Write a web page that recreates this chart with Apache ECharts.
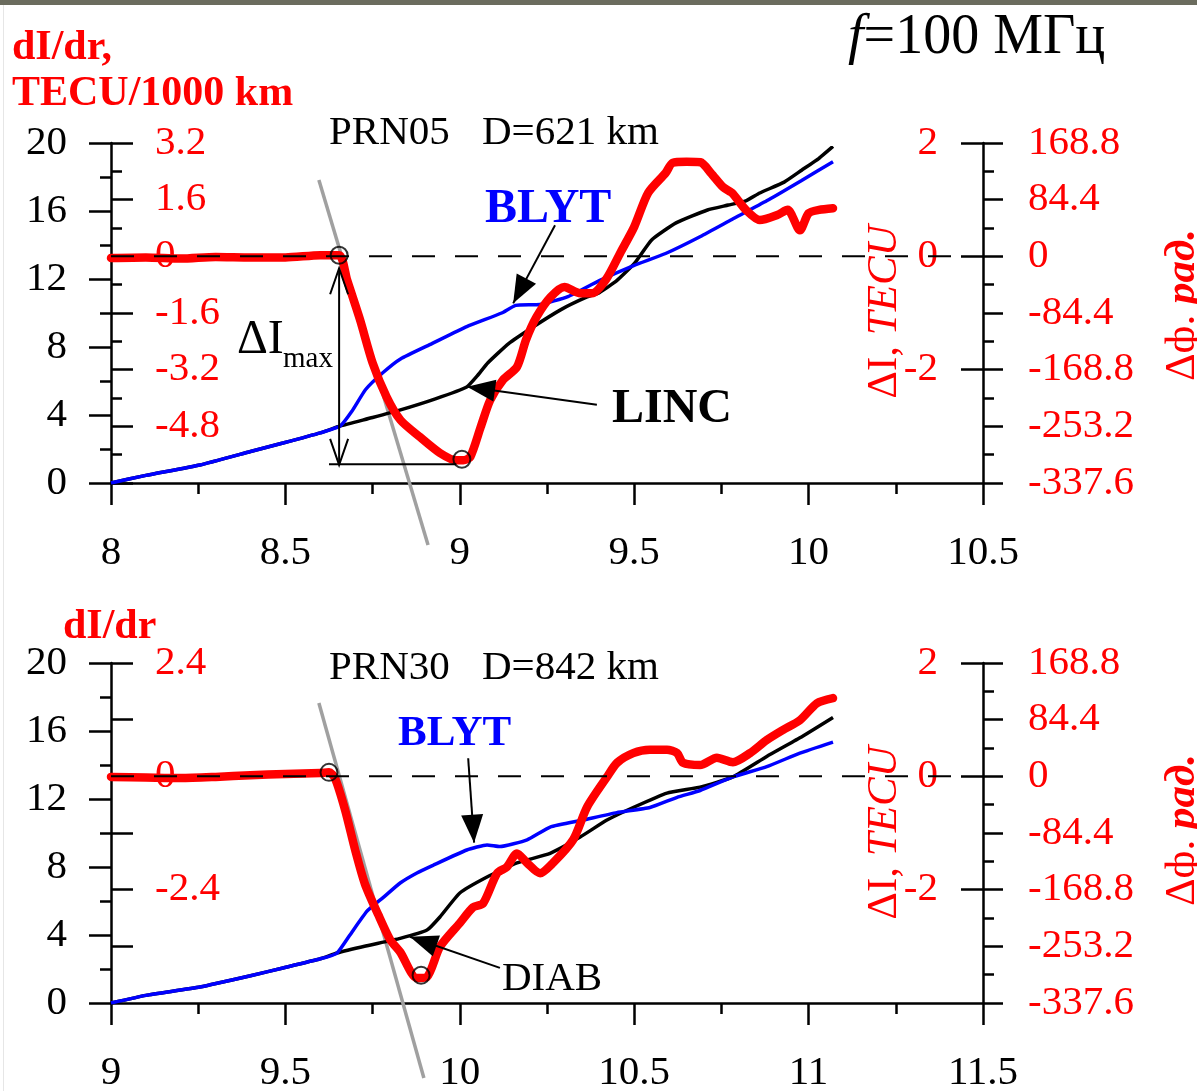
<!DOCTYPE html>
<html lang="en">
<head>
<meta charset="UTF-8">
<title>dI/dr PRN05 / PRN30</title>
<script src="https://cdn.jsdelivr.net/npm/echarts@6/dist/echarts.min.js"></script>
<style>html,body{margin:0;padding:0;background:#fff;}</style>
</head>
<body>
<div id="main" style="width:1197px;height:1091px;"></div>
<script>
const SERIF = "'Liberation Serif', 'Times New Roman', serif";

// ---- top panel: PRN05, D=621 km ----
const topLincX = [8, 8.1, 8.255, 8.4, 8.493, 8.6, 8.657, 8.75, 8.83, 8.93, 9.02, 9.05, 9.08, 9.14, 9.21, 9.29, 9.36, 9.40, 9.45, 9.50, 9.55, 9.62, 9.71, 9.77, 9.82, 9.86, 9.93, 9.98, 10.03, 10.07];
const topLincY = [0, 0.45, 1.06, 1.85, 2.35, 2.95, 3.35, 3.85, 4.3, 4.95, 5.65, 6.3, 7.06, 8.2, 9.18, 10.2, 10.9, 11.2, 11.9, 12.9, 14.3, 15.3, 16.06, 16.35, 16.6, 17.06, 17.7, 18.4, 19.1, 19.8];

const topBlytX = [8, 8.1, 8.255, 8.4, 8.493, 8.6, 8.657, 8.69, 8.73, 8.78, 8.83, 8.92, 9.02, 9.12, 9.16, 9.23, 9.31, 9.40, 9.50, 9.59, 9.69, 9.78, 9.88, 9.98, 10.07];
const topBlytY = [0, 0.45, 1.06, 1.85, 2.35, 2.95, 3.35, 4.2, 5.5, 6.5, 7.3, 8.2, 9.2, 10.0, 10.45, 10.5, 10.96, 11.9, 12.8, 13.5, 14.5, 15.5, 16.6, 17.8, 18.9];

const topDeltaX = [8, 8.1, 8.2, 8.3, 8.4, 8.5, 8.6, 8.654, 8.677, 8.714, 8.75, 8.79, 8.83, 8.886, 8.943, 8.99, 9.01, 9.03, 9.06, 9.087, 9.124, 9.164, 9.19, 9.22, 9.26, 9.30, 9.345, 9.38, 9.42, 9.46, 9.50, 9.54, 9.59, 9.61, 9.65, 9.69, 9.72, 9.755, 9.78, 9.82, 9.86, 9.91, 9.94, 9.975, 10.0, 10.03, 10.07];
const topDeltaY = [-0.03, -0.02, -0.04, -0.01, -0.02, -0.02, 0.02, 0.02, -0.42, -1.12, -1.88, -2.48, -2.89, -3.19, -3.47, -3.6, -3.6, -3.54, -3.01, -2.54, -2.18, -1.95, -1.47, -1.07, -0.72, -0.54, -0.65, -0.65, -0.40, 0.06, 0.52, 1.12, 1.47, 1.65, 1.67, 1.66, 1.47, 1.22, 1.12, 0.82, 0.64, 0.73, 0.82, 0.46, 0.76, 0.82, 0.85];

const topCircles = [[8.654, 0.02], [9.006, -3.58]];

// ---- bottom panel: PRN30, D=842 km ----
const botDiabX = [9, 9.1, 9.255, 9.4, 9.493, 9.6, 9.648, 9.73, 9.829, 9.906, 9.943, 10.0, 10.078, 10.164, 10.259, 10.345, 10.422, 10.497, 10.594, 10.689, 10.783, 10.88, 10.975, 11.07];
const botDiabY = [0, 0.45, 0.94, 1.6, 2.06, 2.6, 2.94, 3.35, 3.8, 4.29, 5.06, 6.47, 7.41, 8.24, 8.8, 9.76, 10.76, 11.5, 12.35, 12.7, 13.3, 14.5, 15.6, 16.8];

const botBlytX = [9, 9.1, 9.255, 9.4, 9.493, 9.6, 9.648, 9.685, 9.734, 9.78, 9.829, 9.877, 9.923, 10.02, 10.078, 10.115, 10.193, 10.259, 10.353, 10.45, 10.545, 10.623, 10.689, 10.783, 10.88, 10.975, 11.07];
const botBlytY = [0, 0.45, 0.94, 1.6, 2.06, 2.6, 2.94, 4.0, 5.4, 6.2, 7.06, 7.65, 8.1, 9.0, 9.3, 9.2, 9.6, 10.35, 10.76, 11.2, 11.5, 12.1, 12.5, 13.3, 13.9, 14.7, 15.35];

const botDeltaX = [9, 9.1, 9.2, 9.3, 9.4, 9.5, 9.6, 9.625, 9.642, 9.671, 9.70, 9.728, 9.766, 9.80, 9.829, 9.877, 9.906, 9.943, 10.0, 10.038, 10.067, 10.107, 10.135, 10.164, 10.193, 10.23, 10.267, 10.325, 10.365, 10.422, 10.451, 10.497, 10.545, 10.594, 10.623, 10.64, 10.689, 10.737, 10.783, 10.832, 10.88, 10.927, 10.975, 11.024, 11.07];
const botDeltaY = [-0.01, -0.02, -0.03, -0.01, 0.02, 0.04, 0.06, 0.07, -0.03, -0.59, -1.3, -1.9, -2.44, -2.88, -3.1, -3.56, -3.54, -3.01, -2.59, -2.31, -2.24, -1.71, -1.6, -1.36, -1.53, -1.71, -1.53, -1.12, -0.54, -0.01, 0.24, 0.41, 0.47, 0.47, 0.41, 0.24, 0.2, 0.33, 0.25, 0.41, 0.64, 0.82, 0.99, 1.29, 1.38];

const botCircles = [[9.625, 0.07], [9.889, -3.51]];

// annotation lines, in (x, ΔI) units of each panel
const topGray = [[8.596, 1.346], [8.909, -5.094]];
const botGray = [[9.596, 1.293], [9.897, -5.324]];
const topZero = [[8, 0], [10.43, 0]];
const botZero = [[9, 0], [11.43, 0]];
const topBlytArrow = [[9.273, 0.55], [9.153, -0.83]];
const topLincArrow = [[9.393, -2.62], [9.021, -2.30]];
const topDImaxArrow = [[8.654, -0.21], [8.654, -3.68]];
const topDImaxBase = [[8.625, -3.67], [8.99, -3.67]];
const botBlytArrow = [[10.024, 0.32], [10.041, -1.17]];
const botDiabArrow = [[10.115, -3.38], [9.857, -2.83]];

const zip = (xs, ys) => xs.map((x, i) => [x, ys[i]]);
const fmt = v => Math.abs(v) < 1e-9 ? '0' : String(+v.toFixed(1));
const black = { color: '#000', width: 2.5 };

function xAxis(grid, min, max) {
  return {
    type: 'value', gridIndex: grid, min: min, max: max, interval: 0.5,
    axisLine: { onZero: false, lineStyle: black },
    axisTick: { length: 22, lineStyle: black },
    minorTick: { show: true, splitNumber: 2, length: 11, lineStyle: black },
    splitLine: { show: false },
    axisLabel: { color: '#000', fontFamily: SERIF, fontSize: 41, margin: 50, showMinLabel: true, showMaxLabel: true, formatter: fmt }
  };
}
function blackAxis(grid) {
  return {
    type: 'value', gridIndex: grid, position: 'left', min: 0, max: 20, interval: 4,
    axisLine: { show: true, onZero: false, lineStyle: black },
    axisTick: { length: 22, lineStyle: black },
    minorTick: { show: true, splitNumber: 2, length: 11, lineStyle: black },
    splitLine: { show: false },
    axisLabel: { color: '#000', fontFamily: SERIF, fontSize: 41, margin: 44 }
  };
}
function innerRedAxis(grid, min, max, step, labelStep) {
  return {
    type: 'value', gridIndex: grid, position: 'left', min: min, max: max, interval: step,
    axisLine: { show: false, onZero: false },
    axisTick: { show: true, inside: true, length: 22, lineStyle: black },
    minorTick: { show: labelStep === step, splitNumber: 2, length: 11, lineStyle: black },
    splitLine: { show: false },
    axisLabel: {
      inside: true, color: '#f00', fontFamily: SERIF, fontSize: 41, margin: 44, showMinLabel: false,
      formatter: v => Math.abs(v / labelStep - Math.round(v / labelStep)) < 1e-6 ? fmt(v) : ''
    }
  };
}
function deltaAxis(grid) {
  return {
    type: 'value', gridIndex: grid, position: 'right', min: -4, max: 2, interval: 2,
    axisLine: { show: true, onZero: false, lineStyle: black },
    axisTick: { show: true, inside: true, length: 22, lineStyle: black },
    splitLine: { show: false },
    axisLabel: { inside: true, color: '#f00', fontFamily: SERIF, fontSize: 41, margin: 45, showMinLabel: false, formatter: fmt }
  };
}
function phaseAxis(grid) {
  return {
    type: 'value', gridIndex: grid, position: 'right', min: -337.6, max: 168.8, interval: 84.4,
    axisLine: { show: false, onZero: false },
    axisTick: { show: true, length: 20, lineStyle: black },
    minorTick: { show: true, splitNumber: 2, length: 11, lineStyle: black },
    splitLine: { show: false },
    axisLabel: { color: '#f00', fontFamily: SERIF, fontSize: 41, margin: 45, formatter: fmt }
  };
}

function panelSeries(xi, yBlack, yDelta, darkX, darkY, blueX, blueY, redX, redY, gray, zero, circles) {
  return [
    { type: 'line', xAxisIndex: xi, yAxisIndex: yDelta, data: gray, clip: false, showSymbol: false, silent: true,
      lineStyle: { color: '#a0a0a0', width: 3.5 }, z: 1 },
    { type: 'line', xAxisIndex: xi, yAxisIndex: yBlack, data: zip(darkX, darkY), showSymbol: false, smooth: 0.15,
      lineStyle: { color: '#000', width: 3.5 }, z: 2 },
    { type: 'line', xAxisIndex: xi, yAxisIndex: yBlack, data: zip(blueX, blueY), showSymbol: false, smooth: 0.15,
      lineStyle: { color: '#0000ff', width: 3.5 }, z: 3 },
    { type: 'line', xAxisIndex: xi, yAxisIndex: yDelta, data: zip(redX, redY), showSymbol: false, smooth: 0.25,
      lineStyle: { color: '#ff0000', width: 8.5, cap: 'round', join: 'round' }, z: 4 },
    { type: 'line', xAxisIndex: xi, yAxisIndex: yDelta, data: zero, showSymbol: false, silent: true,
      lineStyle: { color: '#000', width: 2, type: [23, 20] }, z: 5 },
    { type: 'scatter', xAxisIndex: xi, yAxisIndex: yDelta, data: circles, symbol: 'circle', symbolSize: 17,
      itemStyle: { color: 'rgba(0,0,0,0)', borderColor: '#000', borderWidth: 2 }, z: 6 }
  ];
}

const chart = echarts.init(document.getElementById('main'));
chart.setOption({
  animation: false,
  backgroundColor: '#fff',
  grid: [
    { left: 111, top: 143, width: 872, height: 340, outerBoundsMode: 'none' },
    { left: 111, top: 663, width: 872, height: 340, outerBoundsMode: 'none' }
  ],
  xAxis: [xAxis(0, 8, 10.5), xAxis(1, 9, 11.5)],
  yAxis: [
    blackAxis(0), innerRedAxis(0, -6.4, 3.2, 1.6, 1.6), deltaAxis(0), phaseAxis(0),
    blackAxis(1), innerRedAxis(1, -4.8, 2.4, 1.2, 2.4), deltaAxis(1), phaseAxis(1)
  ],
  series: [].concat(
    panelSeries(0, 0, 2, topLincX, topLincY, topBlytX, topBlytY, topDeltaX, topDeltaY, topGray, topZero, topCircles),
    panelSeries(1, 4, 6, botDiabX, botDiabY, botBlytX, botBlytY, botDeltaX, botDeltaY, botGray, botZero, botCircles)
  )
});

// arrows are placed through the panels' scales (series 3 = top red, 9 = bottom red)
function toPx(si, p) { return chart.convertToPixel({ seriesIndex: si }, p); }
function arrow(si, seg, headStart, headEnd, open) {
  const a = toPx(si, seg[0]), b = toPx(si, seg[1]);
  const out = [{ type: 'line', shape: { x1: a[0], y1: a[1], x2: b[0], y2: b[1] }, style: { stroke: '#000', lineWidth: 2 }, z: 100 }];
  const head = (tip, from) => {
    const dx = tip[0] - from[0], dy = tip[1] - from[1], L = Math.hypot(dx, dy);
    const ux = dx / L, uy = dy / L, nx = -uy, ny = ux;
    const len = open ? 26 : 28, w = open ? 9 : 11;
    const bx = tip[0] - ux * len, by = tip[1] - uy * len;
    const pts = [[bx + nx * w, by + ny * w], tip, [bx - nx * w, by - ny * w]];
    return open
      ? { type: 'polyline', shape: { points: pts }, style: { stroke: '#000', lineWidth: 2, fill: null }, z: 100 }
      : { type: 'polygon', shape: { points: pts }, style: { fill: '#000' }, z: 100 };
  };
  if (headEnd) out.push(head(b, a));
  if (headStart) out.push(head(a, b));
  return out;
}
function txt(x, y, text, font, fill, extra) {
  return Object.assign({ type: 'text', x: x, y: y, z: 100,
    style: { text: text, font: font, fill: fill, align: 'left', textAlign: 'left', verticalAlign: 'middle', textVerticalAlign: 'middle' } }, extra || {});
}
function vtxt(x, y, text, rich) {
  return { type: 'text', x: x, y: y, rotation: Math.PI / 2, z: 100,
    style: { text: text, rich: rich, fill: '#f00', align: 'center', textAlign: 'center', verticalAlign: 'middle', textVerticalAlign: 'middle' } };
}
const F = (s, w) => (w || '') + ' ' + s + 'px ' + SERIF;
const richDI = {
  n: { font: F(43), fill: '#f00' },
  i: { font: F(43, 'italic'), fill: '#f00' }
};
const richPh = {
  n: { font: F(43), fill: '#f00' },
  i: { font: F(43, 'italic bold'), fill: '#f00' }
};

const g = [
  { type: 'rect', shape: { x: 0, y: 0, width: 1197, height: 5 }, style: { fill: '#6b6c5e' }, z: 100 },
  { type: 'rect', shape: { x: 3, y: 5, width: 1, height: 1086 }, style: { fill: '#e6e6e6' }, z: 100 },
  { type: 'text', x: 848, y: 38, z: 100,
    style: { text: '{i|f}{r|=100 МГц}', align: 'left', verticalAlign: 'middle', textAlign: 'left', textVerticalAlign: 'middle',
      rich: { i: { font: F(56, 'italic'), fill: '#000' }, r: { font: F(56), fill: '#000' } } } },
  txt(12, 48, 'dI/dr,', F(42, 'bold'), '#f00'),
  txt(12, 94, 'TECU/1000 km', F(42, 'bold'), '#f00'),
  txt(329, 133, 'PRN05', F(41), '#000'),
  txt(482, 133, 'D=621 km', F(41), '#000'),
  txt(485, 210, 'BLYT', F(48, 'bold'), '#0000ff'),
  txt(612, 410, 'LINC', F(48, 'bold'), '#000'),
  txt(237, 340, 'ΔI', F(48), '#000'),
  txt(283, 359, 'max', F(29), '#000'),
  vtxt(885, 312, '{n|ΔI, }{i|TECU}', richDI),
  vtxt(1183, 305, '{n|Δф. }{i|рад.}', richPh),
  txt(63, 627, 'dI/dr', F(42, 'bold'), '#f00'),
  txt(329, 668, 'PRN30', F(41), '#000'),
  txt(482, 668, 'D=842 km', F(41), '#000'),
  txt(398, 734, 'BLYT', F(43, 'bold'), '#0000ff'),
  txt(502, 979, 'DIAB', F(41), '#000'),
  vtxt(885, 833, '{n|ΔI, }{i|TECU}', richDI),
  vtxt(1183, 830, '{n|Δф. }{i|рад.}', richPh)
].concat(
  arrow(3, topBlytArrow, false, true, false),
  arrow(3, topLincArrow, false, true, false),
  arrow(3, topDImaxArrow, true, true, true),
  arrow(3, topDImaxBase, false, false, false),
  arrow(9, botBlytArrow, false, true, false),
  arrow(9, botDiabArrow, false, true, false)
);
chart.setOption({ graphic: g });
</script>
</body>
</html>
